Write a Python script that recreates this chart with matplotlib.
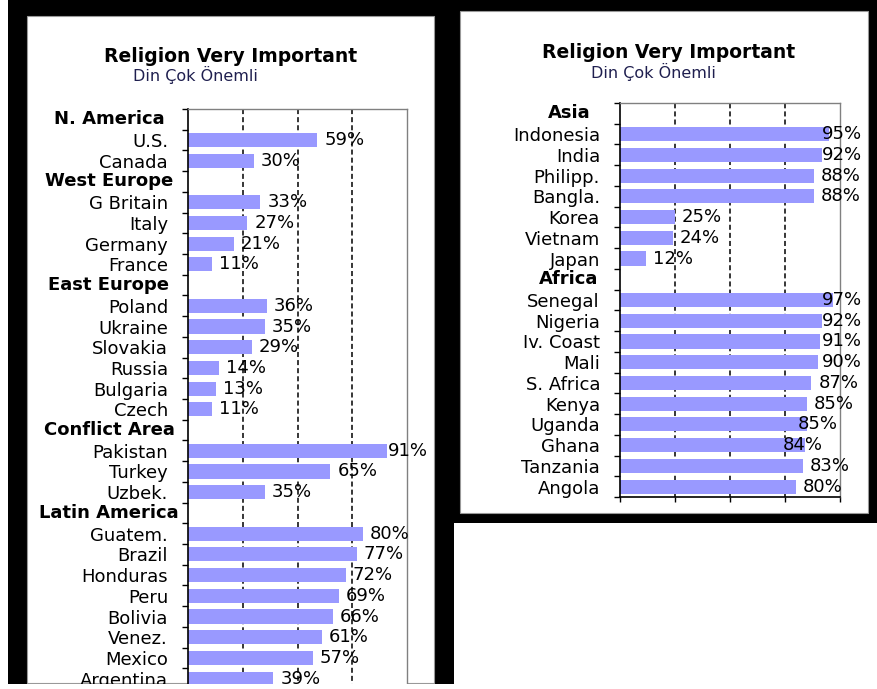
import numpy as np
import matplotlib.pyplot as plt
from matplotlib.patches import Rectangle

W, H = 877, 689

# left chart
left_groups = ["N. America", "West Europe", "East Europe", "Conflict Area", "Latin America"]
left_countries = [
    ["U.S.", "Canada"],
    ["G Britain", "Italy", "Germany", "France"],
    ["Poland", "Ukraine", "Slovakia", "Russia", "Bulgaria", "Czech"],
    ["Pakistan", "Turkey", "Uzbek."],
    ["Guatem.", "Brazil", "Honduras", "Peru", "Bolivia", "Venez.", "Mexico", "Argentina"],
]
left_values = [
    [59, 30],
    [33, 27, 21, 11],
    [36, 35, 29, 14, 13, 11],
    [91, 65, 35],
    [80, 77, 72, 69, 66, 61, 57, 39],
]

# right chart
right_groups = ["Asia", "Africa"]
right_countries = [
    ["Indonesia", "India", "Philipp.", "Bangla.", "Korea", "Vietnam", "Japan"],
    ["Senegal", "Nigeria", "Iv. Coast", "Mali", "S. Africa", "Kenya", "Uganda", "Ghana", "Tanzania", "Angola"],
]
right_values = [
    [95, 92, 88, 88, 25, 24, 12],
    [97, 92, 91, 90, 87, 85, 85, 84, 83, 80],
]

title = "Religion Very Important"
subtitle = "Din Çok Önemli"
grid_vals = [25, 50, 75]
label_nudge = {"Uganda": -16, "Ghana": -29}   # px, labels moved left in the original

bar_color = '#9999ff'


def fx(px):
    return px / W


def fy(py):
    return 1 - py / H


def pixel_rect(fig, x0, y0, x1, y1, **kw):
    r = Rectangle((fx(x0), fy(y1)), fx(x1) - fx(x0), fy(y0) - fy(y1),
                  transform=fig.transFigure, **kw)
    fig.patches.append(r)
    return r


def draw_panel(ax, groups, countries, values, header_dx):
    names, vals, is_head = [], [], []
    for g, cs, vs in zip(groups, countries, values):
        names.append(g); vals.append(np.nan); is_head.append(True)
        for c, v in zip(cs, vs):
            names.append(c); vals.append(v); is_head.append(False)
    n = len(names)
    y = np.arange(n)
    vals = np.array(vals, dtype=float)

    for g in grid_vals:
        ax.axvline(g, color='black', lw=1.1, linestyle=(0, (3.3, 2.0)), zorder=1)
    ax.barh(y, np.nan_to_num(vals), height=0.68, color=bar_color, linewidth=0, zorder=2)

    ax.set_xlim(0, 100)
    ax.set_ylim(n - 0.5, -0.5)
    ax.set_yticks(y)
    ax.set_yticklabels(['' if h else s for s, h in zip(names, is_head)], fontsize=13)
    ax.set_yticks(np.arange(n + 1) - 0.5, minor=True)
    ax.tick_params(axis='y', which='major', length=0, pad=14.4)
    ax.tick_params(axis='y', which='minor', length=4.3, width=1, direction='out', color='black')
    ax.set_xticks([0, 25, 50, 75, 100])
    ax.set_xticklabels([])
    ax.tick_params(axis='x', length=3.6, width=1, direction='out', color='black')

    for side in ['top', 'right']:
        ax.spines[side].set_color('#808080')
        ax.spines[side].set_linewidth(1)
    for side in ['left', 'bottom']:
        ax.spines[side].set_color('black')
        ax.spines[side].set_linewidth(1.2)

    for i, (s, h) in enumerate(zip(names, is_head)):
        if h:
            ax.annotate(s, xy=(0, i), xycoords=('axes fraction', 'data'),
                        xytext=(-header_dx, 0), textcoords='offset pixels',
                        ha='center', va='center', fontsize=13, fontweight='bold')

    labels = []
    for i, (s, v) in enumerate(zip(names, vals)):
        if np.isnan(v):
            continue
        t = ax.annotate(f"{int(v)}%", xy=(v, i), xytext=(7 + label_nudge.get(s, 0), 0),
                        textcoords='offset pixels', ha='left', va='center',
                        fontsize=13, zorder=3)
        labels.append(t)
    return labels


fig = plt.figure(figsize=(W / 100, H / 100), dpi=100, facecolor='white')

# panel frames
pixel_rect(fig, 8, 0, 454, 684, facecolor='black', edgecolor='none', zorder=-10)
pixel_rect(fig, 434, 0, 877, 523, facecolor='black', edgecolor='none', zorder=-10)
pixel_rect(fig, 27, 16, 434, 683, facecolor='white', edgecolor='#999999', lw=0.8, zorder=-9)
pixel_rect(fig, 460, 11, 868, 513, facecolor='white', edgecolor='#999999', lw=0.8, zorder=-9)

ax1 = fig.add_axes([fx(188), fy(689), fx(407) - fx(188), fy(109) - fy(689)])
ax2 = fig.add_axes([fx(620), fy(497), fx(840) - fx(620), fy(103) - fy(497)])

lab1 = draw_panel(ax1, left_groups, left_countries, left_values, 79)
lab2 = draw_panel(ax2, right_groups, right_countries, right_values, 51)

# keep value labels inside the chart area
renderer = fig.canvas.get_renderer()
for labs, limit in [(lab1, 428), (lab2, 862)]:
    for t in labs:
        bb = t.get_window_extent(renderer)
        if bb.x1 > limit:
            dx, dy = t.xyann
            t.xyann = (dx - (bb.x1 - limit), dy)

fig.text(fx(231), fy(57), title, ha='center', va='center', fontsize=13.5, fontweight='bold')
fig.text(fx(195), fy(75), subtitle, ha='center', va='center', fontsize=11.5, color='#1f1f4f')
fig.text(fx(669), fy(52), title, ha='center', va='center', fontsize=13.5, fontweight='bold')
fig.text(fx(653), fy(72), subtitle, ha='center', va='center', fontsize=11.5, color='#1f1f4f')

# bottom edge of the left panel cuts the chart
pixel_rect(fig, 0, 684, 454, 689, facecolor='white', edgecolor='none', zorder=10)

fig.savefig('out.png', dpi=100, facecolor='white')
